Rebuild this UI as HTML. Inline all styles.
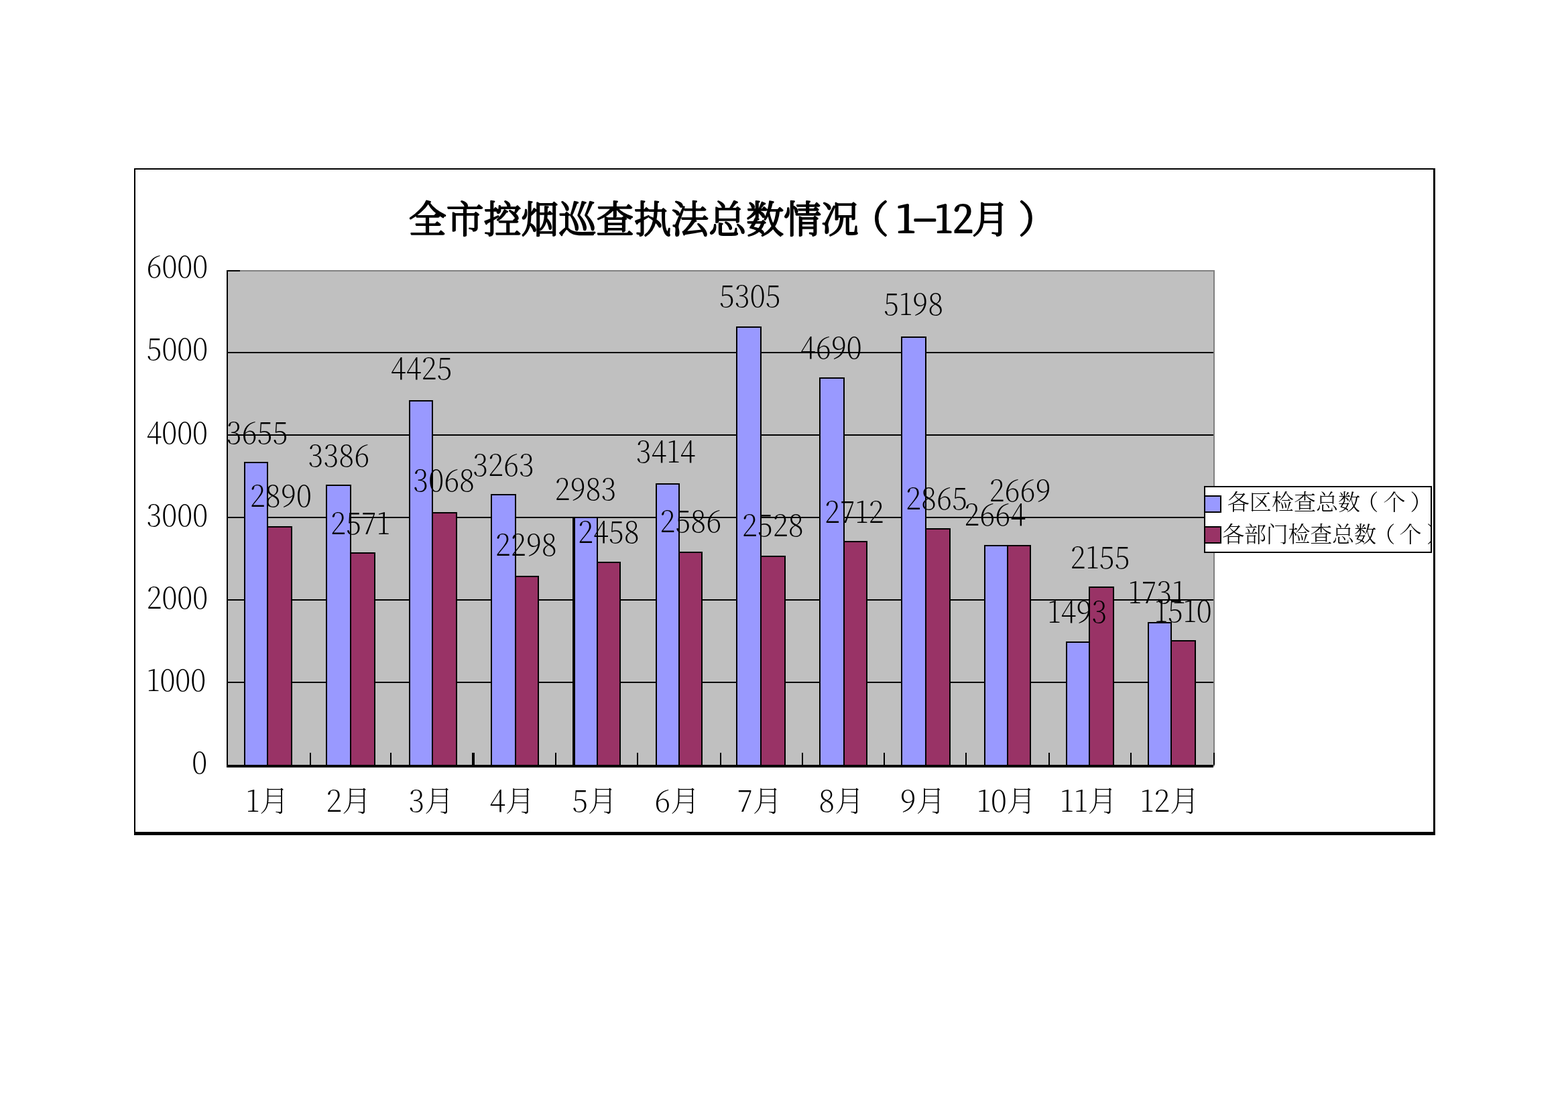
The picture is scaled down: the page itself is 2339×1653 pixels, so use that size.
<!DOCTYPE html>
<html lang="zh-CN"><head><meta charset="utf-8">
<title>全市控烟巡查执法总数情况（1-12月）</title>
<style>
html,body{margin:0;padding:0;background:#fff}
body{width:2339px;height:1653px;overflow:hidden;position:relative}
svg{position:absolute;left:0;top:0;display:block}
text{font-family:'Noto Serif CJK SC','Liberation Serif',serif;fill:#000;white-space:pre}
.n{font-size:44px;font-weight:200}
.t{font-size:56px;font-weight:300;stroke:#000;stroke-width:2.2px;stroke-linejoin:round}
.l{font-size:33px;font-weight:300}
.s{shape-rendering:crispEdges}
</style></head><body>
<svg width="2339" height="1653" viewBox="0 0 2339 1653" role="img" aria-label="全市控烟巡查执法总数情况（1-12月 ）">
<desc>全市控烟巡查执法总数情况（1-12月 ） 各区检查总数（个） 各部门检查总数（个）</desc>
<defs><clipPath id="cp"><rect x="339" y="403" width="1471" height="740"/></clipPath><clipPath id="cl"><rect x="1798" y="727" width="336" height="96"/></clipPath></defs>
<rect width="2339" height="1653" fill="#fff"/>
<!-- chart frame -->
<g class="s" fill="#000">
<rect x="200" y="251" width="1941" height="2"/>
<rect x="200" y="251" width="2" height="995"/>
<rect x="2138" y="251" width="3" height="995"/>
<rect x="200" y="1241" width="1941" height="5"/>
</g>
<!-- plot area, gridlines, ticks, bars, axes -->
<g class="s">
<rect x="338" y="403" width="1474" height="740" fill="#c0c0c0"/>
<rect x="338" y="403" width="1474" height="2" fill="#808080"/>
<rect x="1810" y="403" width="2" height="740" fill="#808080"/>
<rect x="338" y="1017" width="1472" height="2" fill="#000"/>
<rect x="338" y="894" width="1472" height="2" fill="#000"/>
<rect x="338" y="771" width="1472" height="2" fill="#000"/>
<rect x="338" y="648" width="1472" height="2" fill="#000"/>
<rect x="338" y="525" width="1472" height="2" fill="#000"/>
<rect x="338" y="403" width="20" height="2" fill="#000"/>
<rect x="462" y="1123" width="2" height="18" fill="#000"/>
<rect x="582" y="1123" width="2" height="18" fill="#000"/>
<rect x="704" y="1123" width="4" height="18" fill="#000"/>
<rect x="828" y="1123" width="2" height="18" fill="#000"/>
<rect x="950" y="1123" width="2" height="18" fill="#000"/>
<rect x="1074" y="1123" width="2" height="18" fill="#000"/>
<rect x="1196" y="1123" width="2" height="18" fill="#000"/>
<rect x="1318" y="1123" width="2" height="18" fill="#000"/>
<rect x="1440" y="1123" width="2" height="18" fill="#000"/>
<rect x="1564" y="1123" width="2" height="18" fill="#000"/>
<rect x="1686" y="1123" width="2" height="18" fill="#000"/>
<rect x="1810" y="1123" width="2" height="18" fill="#000"/>
<rect x="364" y="689" width="36" height="452" fill="#000"/>
<rect x="366" y="691" width="32" height="450" fill="#9999ff"/>
<rect x="398" y="785" width="38" height="356" fill="#000"/>
<rect x="400" y="787" width="34" height="354" fill="#993366"/>
<rect x="486" y="723" width="38" height="418" fill="#000"/>
<rect x="488" y="725" width="34" height="416" fill="#9999ff"/>
<rect x="522" y="824" width="38" height="317" fill="#000"/>
<rect x="524" y="826" width="34" height="315" fill="#993366"/>
<rect x="610" y="597" width="36" height="544" fill="#000"/>
<rect x="612" y="599" width="32" height="542" fill="#9999ff"/>
<rect x="644" y="764" width="38" height="377" fill="#000"/>
<rect x="646" y="766" width="34" height="375" fill="#993366"/>
<rect x="732" y="737" width="38" height="404" fill="#000"/>
<rect x="734" y="739" width="34" height="402" fill="#9999ff"/>
<rect x="768" y="859" width="36" height="282" fill="#000"/>
<rect x="770" y="861" width="32" height="280" fill="#993366"/>
<rect x="854" y="771" width="38" height="370" fill="#000"/>
<rect x="858" y="773" width="32" height="368" fill="#9999ff"/>
<rect x="890" y="838" width="36" height="303" fill="#000"/>
<rect x="892" y="840" width="32" height="301" fill="#993366"/>
<rect x="978" y="721" width="36" height="420" fill="#000"/>
<rect x="980" y="723" width="32" height="418" fill="#9999ff"/>
<rect x="1012" y="823" width="36" height="318" fill="#000"/>
<rect x="1014" y="825" width="32" height="316" fill="#993366"/>
<rect x="1098" y="487" width="38" height="654" fill="#000"/>
<rect x="1100" y="489" width="34" height="652" fill="#9999ff"/>
<rect x="1134" y="829" width="38" height="312" fill="#000"/>
<rect x="1136" y="831" width="34" height="310" fill="#993366"/>
<rect x="1222" y="563" width="38" height="578" fill="#000"/>
<rect x="1224" y="565" width="34" height="576" fill="#9999ff"/>
<rect x="1258" y="807" width="36" height="334" fill="#000"/>
<rect x="1260" y="809" width="32" height="332" fill="#993366"/>
<rect x="1344" y="502" width="38" height="639" fill="#000"/>
<rect x="1346" y="504" width="34" height="637" fill="#9999ff"/>
<rect x="1380" y="788" width="38" height="353" fill="#000"/>
<rect x="1382" y="790" width="34" height="351" fill="#993366"/>
<rect x="1468" y="813" width="36" height="328" fill="#000"/>
<rect x="1470" y="815" width="32" height="326" fill="#9999ff"/>
<rect x="1502" y="813" width="36" height="328" fill="#000"/>
<rect x="1504" y="815" width="32" height="326" fill="#993366"/>
<rect x="1590" y="957" width="36" height="184" fill="#000"/>
<rect x="1592" y="959" width="32" height="182" fill="#9999ff"/>
<rect x="1624" y="875" width="38" height="266" fill="#000"/>
<rect x="1626" y="877" width="34" height="264" fill="#993366"/>
<rect x="1712" y="928" width="36" height="213" fill="#000"/>
<rect x="1714" y="930" width="32" height="211" fill="#9999ff"/>
<rect x="1746" y="955" width="38" height="186" fill="#000"/>
<rect x="1748" y="957" width="34" height="184" fill="#993366"/>
<rect x="338" y="403" width="2" height="742" fill="#000"/>
<rect x="338" y="1141" width="1472" height="4" fill="#000"/>
</g>
<!-- data labels -->
<g clip-path="url(#cp)">
<text class="n" transform="translate(337.7 662) scale(0.961 1)">3655</text>
<text class="n" transform="translate(459.5 696) scale(0.961 1)">3386</text>
<text class="n" transform="translate(582.8 566) scale(0.961 1)">4425</text>
<text class="n" transform="translate(372.8 756) scale(0.961 1)">2890</text>
<text class="n" transform="translate(493.1 797) scale(0.961 1)">2571</text>
<text class="n" transform="translate(616.3 733) scale(0.961 1)">3068</text>
<text class="n" transform="translate(705.2 710) scale(0.961 1)">3263</text>
<text class="n" transform="translate(827.4 746) scale(0.961 1)">2983</text>
<text class="n" transform="translate(948.7 690) scale(0.961 1)">3414</text>
<text class="n" transform="translate(738.7 829) scale(0.961 1)">2298</text>
<text class="n" transform="translate(861.9 810) scale(0.961 1)">2458</text>
<text class="n" transform="translate(984.2 794) scale(0.961 1)">2586</text>
<text class="n" transform="translate(1072.8 458) scale(0.961 1)">5305</text>
<text class="n" transform="translate(1193.8 535) scale(0.961 1)">4690</text>
<text class="n" transform="translate(1318 470) scale(0.961 1)">5198</text>
<text class="n" transform="translate(1106.8 800) scale(0.961 1)">2528</text>
<text class="n" transform="translate(1230 780) scale(0.961 1)">2712</text>
<text class="n" transform="translate(1351 760) scale(0.961 1)">2865</text>
<text class="n" transform="translate(1475.6 748) scale(0.961 1)">2669</text>
<text class="n" transform="translate(1438.2 784) scale(0.961 1)">2664</text>
<text class="n" transform="translate(1596.4 848) scale(0.961 1)">2155</text>
<text class="n" transform="translate(1562.4 929) scale(0.961 1)">1493</text>
<text class="n" transform="translate(1682.7 900) scale(0.961 1)">1731</text>
<text class="n" transform="translate(1721.7 928) scale(0.961 1)">1510</text>
</g>
<!-- value axis labels -->
<g>
<text class="n" transform="translate(218.4 414) scale(0.961 1)">6000</text>
<text class="n" transform="translate(218.4 537) scale(0.961 1)">5000</text>
<text class="n" transform="translate(218.4 662) scale(0.961 1)">4000</text>
<text class="n" transform="translate(218.4 785) scale(0.961 1)">3000</text>
<text class="n" transform="translate(218.4 908) scale(0.961 1)">2000</text>
<text class="n" transform="translate(218.4 1031) scale(0.961 1)">1000</text>
<text class="n" transform="translate(286.2 1154) scale(0.961 1)">0</text>
</g>
<!-- category axis labels -->
<g>
<text class="n" x="366.5" y="1211">1月</text>
<text class="n" x="486.3" y="1211">2月</text>
<text class="n" x="609.4" y="1211">3月</text>
<text class="n" x="730.3" y="1211">4月</text>
<text class="n" x="853.2" y="1211">5月</text>
<text class="n" x="976.3" y="1211">6月</text>
<text class="n" x="1099.6" y="1211">7月</text>
<text class="n" x="1221.3" y="1211">8月</text>
<text class="n" x="1342.6" y="1211">9月</text>
<text class="n" x="1457.1" y="1211">10月</text>
<text class="n" x="1581.1" y="1211">11月</text>
<text class="n" x="1700.4" y="1211">12月</text>
</g>
<!-- legend -->
<g class="s">
<rect x="1796" y="725" width="340" height="100" fill="#000"/>
<rect x="1798" y="727" width="336" height="96" fill="#fff"/>
<rect x="1796" y="739" width="26" height="26" fill="#000"/><rect x="1798" y="741" width="22" height="22" fill="#9999ff"/>
<rect x="1796" y="785" width="26" height="26" fill="#000"/><rect x="1798" y="787" width="22" height="22" fill="#993366"/>
</g>
<g clip-path="url(#cl)">
<text class="l" y="761" x="1830.8 1863.8 1896.9 1929.9 1962.9 1996 2023.2 2063.4 2103.6">各区检查总数（个）</text>
<text class="l" y="809" x="1823.2 1856 1888.8 1921.6 1954.3 1987.1 2019.9 2048.3 2087.5 2128.1">各部门检查总数（个）</text>
</g>
<!-- title -->
<text class="t"><tspan x="609.8" y="346.5" textLength="671.2" lengthAdjust="spacingAndGlyphs">全市控烟巡查执法总数情况</tspan><tspan x="1269.6" y="346.5">（</tspan><tspan x="1335.9" y="346.5" textLength="29.9" lengthAdjust="spacingAndGlyphs">1</tspan><tspan x="1360.7" y="343" textLength="38.2" lengthAdjust="spacingAndGlyphs">-</tspan><tspan x="1394.4" y="346.5" textLength="57.5" lengthAdjust="spacingAndGlyphs">12</tspan><tspan x="1450" y="346.5">月 </tspan><tspan x="1519.2" y="346.5">）</tspan></text>
</svg>
</body></html>
